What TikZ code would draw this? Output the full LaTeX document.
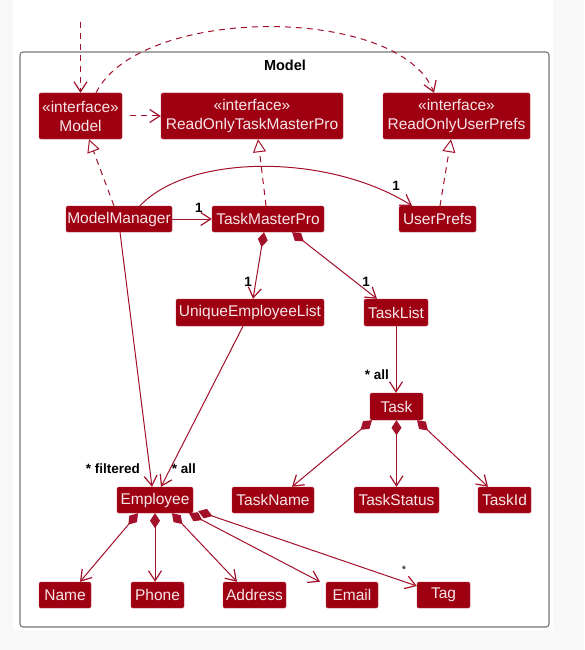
\documentclass[tikz,border=0pt]{standalone}
\usepackage{fontspec}
\setmainfont{Liberation Sans}
\usetikzlibrary{arrows.meta,calc}
\definecolor{boxred}{HTML}{9E0012}
\definecolor{linered}{HTML}{A3102A}
\definecolor{boxtext}{HTML}{F6E6E8}
\definecolor{framegray}{HTML}{777777}
\definecolor{pagegray}{HTML}{F8F8F8}
\tikzset{
  cls/.style={rectangle, rounded corners=1.5pt, fill=boxred, draw=boxred!80!white, line width=0.4pt,
    text=boxtext, font=\fontsize{15.5}{17}\selectfont, inner sep=0pt, minimum height=26pt, align=center},
  iface/.style={cls, minimum height=46pt, font=\fontsize{15.5}{19}\selectfont},
  conn/.style={draw=linered, line width=1pt},
  tipb/.tip={Straight Barb[length=10pt,width=13pt,line width=1.2pt]},
  assoc/.style={conn, -tipb},
  dep/.style={assoc, dash pattern=on 6pt off 5pt},
  real/.style={conn, dash pattern=on 6pt off 5pt, -{Triangle[open,length=13pt,width=13pt,line width=1pt,fill=white]}},
  comp/.style={conn, {Diamond[length=15pt,width=10pt,fill=linered]}-tipb},
  lab/.style={font=\bfseries\fontsize{13.5}{15}\selectfont, text=black, inner sep=0pt},
}
\begin{document}
\begin{tikzpicture}[x=1pt,y=-1pt]
\useasboundingbox (0,0) rectangle (584,650);
\fill[pagegray] (0,0) rectangle (584,650);
\fill[white] (13,0) rectangle (553,630);
\draw[framegray, line width=1.1pt, rounded corners=3pt] (20,52) rectangle (549,627);
\node[font=\bfseries\fontsize{14.5}{16}\selectfont] (title) at (285,65) {Model};

% nodes
\node[iface, minimum width=83pt] (Model) at (80.5,116) {«interface»\\Model};
\node[iface, minimum width=182pt] (ROTMP) at (252,116) {«interface»\\ReadOnlyTaskMasterPro};
\node[iface, minimum width=147pt] (ROUP) at (456.5,116) {«interface»\\ReadOnlyUserPrefs};
\node[cls, minimum width=106pt] (MM) at (119,219) {ModelManager};
\node[cls, minimum width=112pt] (TMP) at (268,219) {TaskMasterPro};
\node[cls, minimum width=77pt] (UP) at (437.5,219) {UserPrefs};
\node[cls, minimum width=148pt, minimum height=27pt] (UEL) at (250,312.5) {UniqueEmployeeList};
\node[cls, minimum width=64pt, minimum height=27pt] (TL) at (396,312.5) {TaskList};
\node[cls, minimum width=53pt, minimum height=27pt] (Task) at (396.5,406.5) {Task};
\node[cls, minimum width=76pt] (Emp) at (155,500) {Employee};
\node[cls, minimum width=82pt] (TN) at (273,500) {TaskName};
\node[cls, minimum width=85pt] (TS) at (396.5,500) {TaskStatus};
\node[cls, minimum width=53pt] (TI) at (504.5,500) {TaskId};
\node[cls, minimum width=52pt] (Name) at (65,595) {Name};
\node[cls, minimum width=53pt] (Phone) at (157.5,595) {Phone};
\node[cls, minimum width=63pt] (Addr) at (254.5,595) {Address};
\node[cls, minimum width=52pt] (Email) at (352,595) {Email};
\node[cls, minimum width=53pt] (Tag) at (443.5,595) {Tag};

% incoming dependency from outside
\coordinate (ext) at (80.5,22);
\draw[dep] (ext) -- (Model.north);

% dependencies
\draw[dep, shorten <=8pt] (Model.east) -- (ROTMP.west);
\draw[dep] ([xshift=15.5pt]Model.north) .. controls +(44,-88) and +(-34,-88) .. ([xshift=-22.5pt]ROUP.north);

% realizations
\draw[real] ([xshift=-5pt]MM.north) -- ([xshift=8.5pt]Model.south);
\draw[real] ([xshift=-2pt]TMP.north) -- ([xshift=6pt]ROTMP.south);
\draw[real] ([xshift=2.5pt]UP.north) -- ([xshift=-5.5pt]ROUP.south);

% associations
\draw[assoc] ([xshift=21pt]MM.north) .. controls +(50,-53) and +(-82,-52) .. ([xshift=-25.5pt]UP.north);
\node[lab] (l1) at (396,186) {1};
\draw[assoc] (MM.east) -- (TMP.west);
\node[lab] (l2) at (199,208) {1};

\draw[comp] ([xshift=-4pt]TMP.south) -- ([xshift=3pt]UEL.north);
\node[lab] (l3) at (248,282) {1};
\draw[comp] ([xshift=24pt]TMP.south) -- ([xshift=-19pt]TL.north);
\node[lab] (l4) at (366,282) {1};

\draw[assoc] (TL.south) -- (TL.south |- Task.north);
\node[lab] (l5) at (377,375) {* all};

\draw[assoc] ([xshift=-7pt]UEL.south) -- ([xshift=6pt]Emp.north);
\node[lab] (l6) at (184,469) {* all};
\draw[assoc] ([xshift=1pt]MM.south) -- ([xshift=-3pt]Emp.north);
\node[lab] (l7) at (113,469) {* filtered};

% task compositions
\draw[comp] ([xshift=-24.5pt]Task.south) -- ([xshift=19pt]TN.north);
\draw[comp] (Task.south) -- (Task.south |- TS.north);
\draw[comp] ([xshift=20.5pt]Task.south) -- ([xshift=-16.5pt]TI.north);

% employee compositions
\draw[comp] ([xshift=-17pt]Emp.south) -- ([xshift=15pt]Name.north);
\draw[comp] (Emp.south) -- (Emp.south |- Phone.north);
\draw[comp] ([xshift=17pt]Emp.south) -- ([xshift=-17.5pt]Addr.north);
\draw[comp] ([xshift=34pt]Emp.south) -- ([xshift=-32pt]Email.north);
\draw[comp] ([xshift=5pt,yshift=2pt]Emp.south east) -- ([yshift=9pt]Tag.west);
\node[font=\fontsize{11}{13}\selectfont, inner sep=0pt] (l8) at (404,570) {*};
\end{tikzpicture}
\end{document}
